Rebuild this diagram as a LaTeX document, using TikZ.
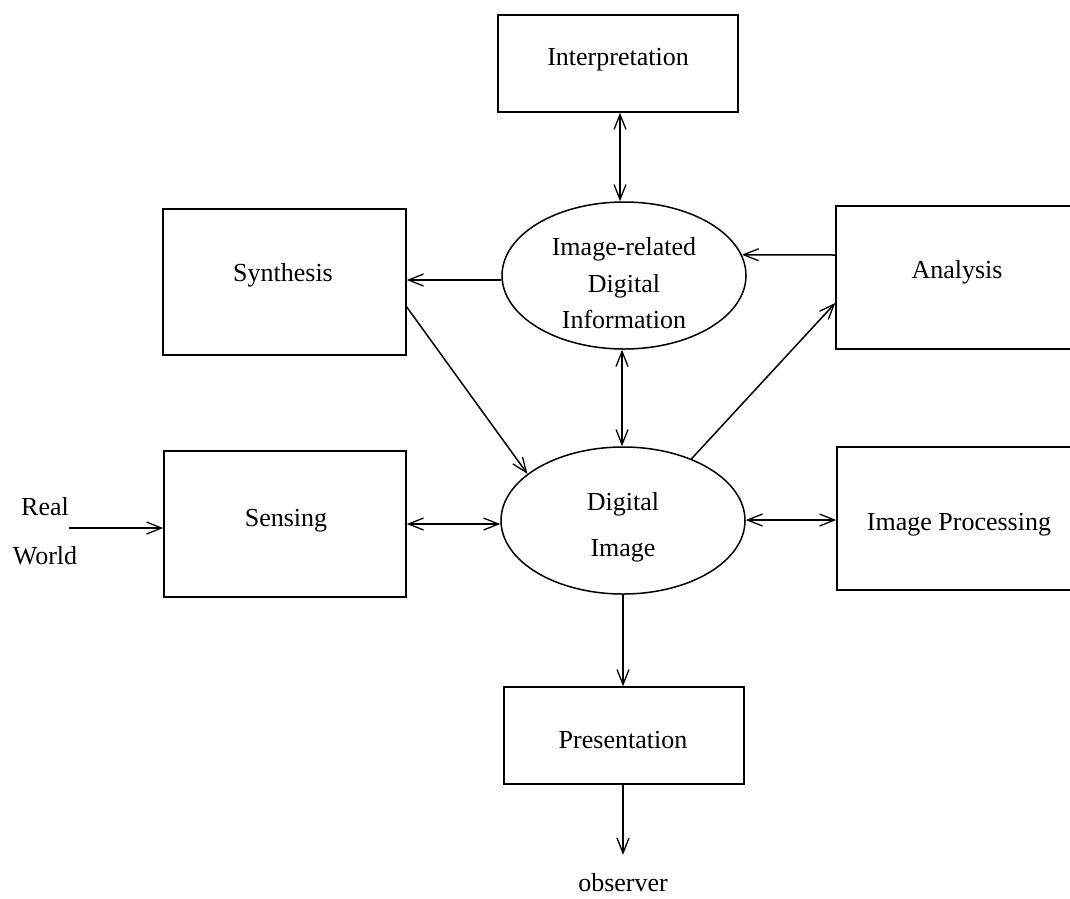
\documentclass[tikz,border=0pt]{standalone}
\usepackage{fontspec}
\setmainfont{Liberation Serif}
\usetikzlibrary{arrows.meta,shapes.geometric}
\tikzset{
  lbl/.style={font=\fontsize{26}{36.5}\selectfont, inner sep=0pt},
  boxn/.style={draw, line width=1.5pt, rectangle, inner sep=0pt},
  ellipsen/.style={draw, line width=1.5pt, ellipse, inner sep=0pt, minimum width=244pt, minimum height=147pt},
  conn/.style={line width=1.5pt},
  >={Straight Barb[length=15pt,width=12pt,line width=1.3pt]}
}
\begin{document}
\begin{tikzpicture}[x=1pt,y=-1pt]
\useasboundingbox (0,0) rectangle (1070,898);
\clip (0,0) rectangle (1070,898);
% shapes
\node[boxn, minimum width=240pt, minimum height=97pt] (interp) at (618,63.5) {};
\node[boxn, minimum width=243pt, minimum height=146pt] (synth) at (284.5,282) {};
\node[boxn, minimum width=254pt, minimum height=143pt] (an) at (963,277.5) {};
\node[boxn, minimum width=242pt, minimum height=146pt] (sens) at (285,524) {};
\node[boxn, minimum width=253pt, minimum height=143pt] (ip) at (963.5,518.5) {};
\node[boxn, minimum width=240pt, minimum height=97pt] (pres) at (624,735.5) {};
\node[ellipsen] (ir) at (624,275.5) {};
\node[ellipsen] (di) at (623,520.5) {};
% texts
\node[lbl, anchor=base] (interpt) at (618,65.6) {Interpretation};
\node[lbl, anchor=base] (syntht) at (283,281.6) {Synthesis};
\node[lbl, anchor=base] (ant) at (957,278.6) {Analysis};
\node[lbl, anchor=base] (senst) at (286,526.6) {Sensing};
\node[lbl, anchor=base] (ipt) at (959,530.6) {Image Processing};
\node[lbl, anchor=base] (prest) at (623,748.6) {Presentation};
\node[lbl, anchor=base] (obs) at (623,891) {observer};
\node[lbl, align=center] (irt) at (624,283.5) {Image-related\\Digital\\Information};
\node[lbl, align=center, font=\fontsize{26}{46}\selectfont] (dit) at (623,527.5) {Digital\\Image};
\node[lbl, align=center, font=\fontsize{26}{49}\selectfont] (rw) at (45,531.5) {Real\\World};
\coordinate (rwend) at (69,528);
% connectors
\draw[conn,<->] ([xshift=2pt]interp.south) -- ([xshift=2pt]interp.south |- ir.north);
\draw[conn,->] ([yshift=-4.5pt]ir.west) -- ([yshift=-4.5pt]ir.west -| synth.east);
\draw[conn,->] ([yshift=22.5pt]an.west) -- (ir.10);
\draw[conn,->] ([yshift=-25pt]synth.east) -- (di.154);
\draw[conn,<->] ([xshift=-2pt]ir.south) -- ([xshift=-2pt]ir.south |- di.north);
\draw[conn,->] (di.42) -- ([yshift=-25.5pt]an.west);
\draw[conn,<->] (sens.east) -- (sens.east -| di.west);
\draw[conn,<->] ([yshift=0.5pt]di.east) -- ([yshift=0.5pt]di.east -| ip.west);
\draw[conn,->] (di.south) -- (di.south |- pres.north);
\draw[conn,->] (pres.south -| obs.north) -- ([yshift=18pt]obs.north);
\draw[conn,->] (rwend) -- (rwend -| sens.west);
\end{tikzpicture}
\end{document}
